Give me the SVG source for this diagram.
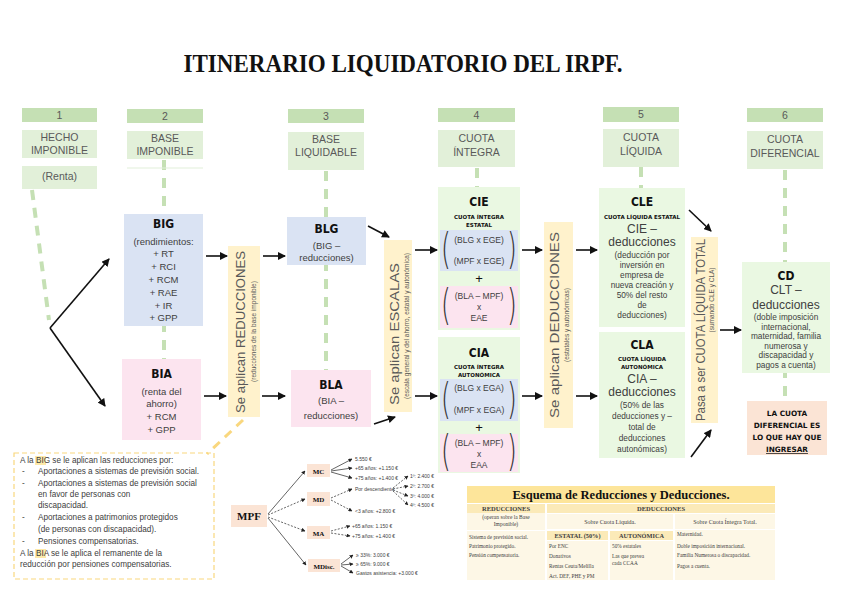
<svg xmlns="http://www.w3.org/2000/svg" width="848" height="599" viewBox="0 0 848 599">
<defs>
<style>
text{font-family:"Liberation Sans",Arial,sans-serif;fill:#595959}
.t{text-anchor:middle}
.hd{font-size:10.5px}
.num{font-size:10.5px}
.ttl{font-family:"DejaVu Sans",sans-serif;font-weight:bold;font-size:12px;fill:#111;text-anchor:middle;font-stretch:condensed}
.sm{font-size:9.5px;text-anchor:middle;fill:#404040}
.xs{font-size:8.3px;text-anchor:middle;fill:#404040}
.tiny{font-family:"DejaVu Sans",sans-serif;font-weight:bold;font-size:5.5px;text-anchor:middle;fill:#111}
.big{font-size:12px;text-anchor:middle;fill:#404040}
.fm{font-size:8.5px;text-anchor:middle;fill:#404040}
.par{font-size:42px;fill:#333;font-family:"DejaVu Sans",sans-serif;font-weight:200}
.vl{font-size:12px;text-anchor:middle;fill:#595959}
.vs{font-size:6.5px;text-anchor:middle;fill:#595959}
.gnum{fill:#c5e0b4}
.glab{fill:#e2f0d9}
.blue{fill:#dae3f3}
.pink{fill:#fce4ef}
.bar{fill:#fff2cc}
.lg{fill:#eaf8e2}
.peach{fill:#fbe4d5}
.gd{stroke:#c5e0b4;stroke-width:4;stroke-dasharray:10 8;fill:none}
.ar{stroke:#111;stroke-width:1.6;fill:none;marker-end:url(#ah)}
.ar2{stroke:#222;stroke-width:0.7;fill:none;marker-end:url(#ah2)}
.ar2d{stroke:#222;stroke-width:0.7;fill:none;stroke-dasharray:2 1.5;marker-end:url(#ah2)}
.nt{font-size:8.2px;fill:#404040}
.mt{font-size:5px;fill:#404040}
.tb{font-family:"Liberation Serif",serif;fill:#404040}
.cell{fill:#fdf7e6}
.chd{fill:#fbeab8}
</style>
<marker id="ah" markerWidth="8" markerHeight="8" refX="7" refY="4" orient="auto" markerUnits="userSpaceOnUse"><path d="M0,0 L8,4 L0,8 Z" fill="#111"/></marker>
<marker id="ah2" markerWidth="4" markerHeight="4" refX="3.5" refY="2" orient="auto" markerUnits="userSpaceOnUse"><path d="M0,0 L4,2 L0,4 Z" fill="#222"/></marker>
</defs>
<rect width="848" height="599" fill="#fff"/>

<text x="403" y="72" text-anchor="middle" style="font-family:'Liberation Serif',serif;font-weight:bold;font-size:25px;fill:#111" textLength="439" lengthAdjust="spacingAndGlyphs">ITINERARIO LIQUIDATORIO DEL IRPF.</text>

<!-- connectors -->
<g id="connectors">
<path class="gd" d="M32,190 L49,320"/>
<path class="gd" d="M164,160 L164,360"/>
<path class="gd" d="M326,171 L326,372"/>
<path class="gd" d="M477,168 L477,188"/>
<path class="gd" d="M641,167 L641,189"/>
<path class="gd" d="M785,170 L785,401"/>
<path d="M243,420 L207,454" stroke="#f9d77e" stroke-width="3" stroke-dasharray="9 7" fill="none"/>
<path class="ar" d="M50,328 L109,259"/>
<path class="ar" d="M50,328 L105,406"/>
<path class="ar" d="M206,256 L227,256"/>
<path class="ar" d="M263,256 L285,256"/>
<path class="ar" d="M204,396 L226,396"/>
<path class="ar" d="M262,396 L285,396"/>
<path class="ar" d="M368,226 L389,237"/>
<path class="ar" d="M374,424 L395,417"/>
<path class="ar" d="M415,250 L437,250"/>
<path class="ar" d="M415,396 L437,396"/>
<path class="ar" d="M522,250 L542,250"/>
<path class="ar" d="M522,396 L542,396"/>
<path class="ar" d="M576,250 L597,250"/>
<path class="ar" d="M576,396 L597,396"/>
<path class="ar" d="M689,210 L711,231"/>
<path class="ar" d="M691,457 L711,430"/>
<path class="ar" d="M720,330 L741,330"/>
<!-- MPF tree -->
<path class="ar2" d="M268,514 L305,471"/>
<path class="ar2d" d="M268,515 L305,499"/>
<path class="ar2d" d="M268,517 L305,531"/>
<path class="ar2" d="M268,518 L306,565"/>
<path class="ar2" d="M331,470 L352,459"/>
<path class="ar2" d="M331,471 L352,468"/>
<path class="ar2" d="M331,472 L352,478"/>
<path class="ar2d" d="M331,498 L352,489"/>
<path class="ar2d" d="M331,500 L352,511"/>
<path class="ar2d" d="M393,488 L408,476"/>
<path class="ar2d" d="M393,489 L408,486"/>
<path class="ar2d" d="M393,490 L408,496"/>
<path class="ar2d" d="M393,491 L408,505"/>
<path class="ar2d" d="M331,531 L350,526"/>
<path class="ar2d" d="M331,533 L350,536"/>
<path class="ar2" d="M341,564 L353,555"/>
<path class="ar2" d="M341,565 L353,564"/>
<path class="ar2" d="M341,566 L353,573"/>
</g>

<!-- column headers -->
<g id="col1">
<rect class="gnum" x="22" y="108" width="75" height="14"/><text class="t num" x="59.5" y="119">1</text>
<rect class="glab" x="22" y="130" width="75" height="28"/><text class="t hd" x="59.5" y="141">HECHO</text><text class="t hd" x="59.5" y="154">IMPONIBLE</text>
<rect class="glab" x="22" y="166" width="75" height="23"/><text class="t hd" x="59.5" y="180">(Renta)</text>
</g>
<g id="col2">
<rect class="gnum" x="127" y="109" width="76" height="14"/><text class="t num" x="165" y="120">2</text>
<rect class="glab" x="127" y="131" width="76" height="28"/><text class="t hd" x="165" y="142">BASE</text><text class="t hd" x="165" y="155">IMPONIBLE</text>
<rect x="127" y="167.5" width="76" height="1" fill="#e2f0d9"/>
</g>
<g id="col3">
<rect class="gnum" x="288" y="109" width="76" height="14"/><text class="t num" x="326" y="120">3</text>
<rect class="glab" x="288" y="132" width="76" height="38"/><text class="t hd" x="326" y="143">BASE</text><text class="t hd" x="326" y="156">LIQUIDABLE</text>
</g>
<g id="col4">
<rect class="gnum" x="438" y="108" width="77" height="14"/><text class="t num" x="476.5" y="119">4</text>
<rect class="glab" x="438" y="130" width="77" height="37"/><text class="t hd" x="476.5" y="142">CUOTA</text><text class="t hd" x="476.5" y="156">ÍNTEGRA</text>
</g>
<g id="col5">
<rect class="gnum" x="603" y="107" width="76" height="15"/><text class="t num" x="641" y="118">5</text>
<rect class="glab" x="603" y="129" width="76" height="38"/><text class="t hd" x="641" y="141">CUOTA</text><text class="t hd" x="641" y="155">LÍQUIDA</text>
</g>
<g id="col6">
<rect class="gnum" x="747" y="108" width="76" height="14"/><text class="t num" x="785" y="119">6</text>
<rect class="glab" x="747" y="131" width="76" height="38"/><text class="t hd" x="785" y="143">CUOTA</text><text class="t hd" x="785" y="157">DIFERENCIAL</text>
</g>

<g id="big">
<rect class="blue" x="124" y="214" width="79" height="112"/>
<text class="ttl" x="163.5" y="228">BIG</text>
<text class="sm" x="163.5" y="245">(rendimientos:</text>
<text class="sm" x="163.5" y="257">+ RT</text>
<text class="sm" x="163.5" y="270">+ RCI</text>
<text class="sm" x="163.5" y="283">+ RCM</text>
<text class="sm" x="163.5" y="296">+ RAE</text>
<text class="sm" x="163.5" y="309">+ IR</text>
<text class="sm" x="163.5" y="321">+ GPP</text>
</g>
<g id="bia">
<rect class="pink" x="122" y="359" width="79" height="81"/>
<text class="ttl" x="161.5" y="378">BIA</text>
<text class="sm" x="161.5" y="395">(renta del</text>
<text class="sm" x="161.5" y="407">ahorro)</text>
<text class="sm" x="161.5" y="420">+ RCM</text>
<text class="sm" x="161.5" y="433">+ GPP</text>
</g>
<g id="bar1">
<rect class="bar" x="228" y="246" width="32" height="171"/>
<text class="vl" transform="translate(245,332) rotate(-90)" textLength="162" lengthAdjust="spacingAndGlyphs">Se aplican REDUCCIONES</text>
<text class="vs" transform="translate(255.5,331.5) rotate(-90)">(reducciones de la base imponible)</text>
</g>
<g id="blg">
<rect class="blue" x="287" y="217" width="79" height="48"/>
<text class="ttl" x="326.5" y="233">BLG</text>
<text class="sm" x="326.5" y="249">(BIG –</text>
<text class="sm" x="326.5" y="261">reducciones)</text>
</g>
<g id="bla">
<rect class="pink" x="291" y="370" width="80" height="57"/>
<text class="ttl" x="331" y="389">BLA</text>
<text class="sm" x="331" y="404">(BIA –</text>
<text class="sm" x="331" y="419">reducciones)</text>
</g>
<g id="bar2">
<rect class="bar" x="384" y="240" width="28" height="172"/>
<text class="vl" transform="translate(399,334) rotate(-90)" textLength="142" lengthAdjust="spacingAndGlyphs">Se aplican ESCALAS</text>
<text class="vs" transform="translate(408.5,326) rotate(-90)">(escala general y del ahorro, estatal y autonómica)</text>
</g>
<g id="cie">
<rect class="lg" x="438" y="187" width="82" height="143"/>
<text class="ttl" x="479" y="206">CIE</text>
<text class="tiny" x="479" y="219">CUOTA ÍNTEGRA</text>
<text class="tiny" x="479" y="227">ESTATAL</text>
<rect class="blue" x="440" y="230" width="78" height="41"/>
<text class="par" transform="translate(441,264) scale(0.6,1)">(</text><text class="par" transform="translate(507,264) scale(0.6,1)">)</text>
<text class="fm" x="479" y="243">(BLG x EGE)</text>
<text class="fm" x="479" y="264">(MPF x EGE)</text>
<text x="479" y="283" style="font-size:13px;text-anchor:middle;fill:#111">+</text>
<rect class="pink" x="440" y="286" width="78" height="42"/>
<text class="par" transform="translate(441,320) scale(0.6,1)">(</text><text class="par" transform="translate(507,320) scale(0.6,1)">)</text>
<text class="fm" x="479" y="299">(BLA – MPF)</text>
<text class="fm" x="479" y="310">x</text>
<text class="fm" x="479" y="321">EAE</text>
</g>
<g id="cia">
<rect class="lg" x="438" y="337" width="82" height="136"/>
<text class="ttl" x="479" y="357">CIA</text>
<text class="tiny" x="479" y="369">CUOTA ÍNTEGRA</text>
<text class="tiny" x="479" y="377">AUTONÓMICA</text>
<rect class="blue" x="440" y="379" width="78" height="42"/>
<text class="par" transform="translate(441,414) scale(0.6,1)">(</text><text class="par" transform="translate(507,414) scale(0.6,1)">)</text>
<text class="fm" x="479" y="391">(BLG x EGA)</text>
<text class="fm" x="479" y="413">(MPF x EGA)</text>
<text x="479" y="432" style="font-size:13px;text-anchor:middle;fill:#111">+</text>
<rect class="pink" x="440" y="434" width="78" height="38"/>
<text class="par" transform="translate(441,466) scale(0.6,1)">(</text><text class="par" transform="translate(507,466) scale(0.6,1)">)</text>
<text class="fm" x="479" y="446">(BLA – MPF)</text>
<text class="fm" x="479" y="457">x</text>
<text class="fm" x="479" y="468">EAA</text>
</g>
<g id="bar3">
<rect class="bar" x="544" y="222" width="29" height="206"/>
<text class="vl" transform="translate(559,325) rotate(-90)" textLength="186" lengthAdjust="spacingAndGlyphs">Se aplican DEDUCCIONES</text>
<text class="vs" transform="translate(568.5,325) rotate(-90)">(estatales y autonómicas)</text>
</g>
<g id="cle">
<rect class="lg" x="599" y="188" width="86" height="139"/>
<text class="ttl" x="642" y="206">CLE</text>
<text class="tiny" x="642" y="219">CUOTA LÍQUIDA ESTATAL</text>
<text class="big" x="642" y="233">CIE –</text>
<text class="big" x="642" y="246">deducciones</text>
<text class="xs" x="642" y="258">(deducción por</text>
<text class="xs" x="642" y="268">inversión en</text>
<text class="xs" x="642" y="278">empresa de</text>
<text class="xs" x="642" y="288">nueva creación y</text>
<text class="xs" x="642" y="298">50% del resto</text>
<text class="xs" x="642" y="308">de</text>
<text class="xs" x="642" y="318">deducciones)</text>
</g>
<g id="cla">
<rect class="lg" x="599" y="332" width="86" height="126"/>
<text class="ttl" x="642" y="349">CLA</text>
<text class="tiny" x="642" y="361">CUOTA LÍQUIDA</text>
<text class="tiny" x="642" y="369">AUTONÓMICA</text>
<text class="big" x="642" y="383">CIA –</text>
<text class="big" x="642" y="396">deducciones</text>
<text class="xs" x="642" y="408">(50% de las</text>
<text class="xs" x="642" y="419">deducciones y –</text>
<text class="xs" x="642" y="430">total de</text>
<text class="xs" x="642" y="441">deducciones</text>
<text class="xs" x="642" y="452">autonómicas)</text>
</g>
<g id="bar4">
<rect class="bar" x="691" y="237" width="27" height="186"/>
<text class="vl" transform="translate(705,330) rotate(-90)" textLength="182" lengthAdjust="spacingAndGlyphs">Pasa a ser CUOTA LÍQUIDA TOTAL</text>
<text class="vs" transform="translate(713.5,300) rotate(-90)">(sumando CLE y CLA)</text>
</g>
<g id="cd">
<rect class="lg" x="742" y="262" width="88" height="111"/>
<text class="ttl" x="786" y="280">CD</text>
<text class="big" x="786" y="294">CLT –</text>
<text class="big" x="786" y="309">deducciones</text>
<text class="xs" x="786" y="320">(doble imposición</text>
<text class="xs" x="786" y="330">internacional,</text>
<text class="xs" x="786" y="339">maternidad, familia</text>
<text class="xs" x="786" y="349">numerosa y</text>
<text class="xs" x="786" y="358">discapacidad y</text>
<text class="xs" x="786" y="368">pagos a cuenta)</text>
</g>
<g id="cdnote">
<rect class="peach" x="747" y="401" width="80" height="54"/>
<text class="tiny" style="font-size:7.3px" x="787" y="416">LA CUOTA</text>
<text class="tiny" style="font-size:7.3px" x="787" y="428">DIFERENCIAL ES</text>
<text class="tiny" style="font-size:7.3px" x="787" y="440">LO QUE HAY QUE</text>
<text class="tiny" style="font-size:7.3px;text-decoration:underline" x="787" y="452">INGRESAR</text>
</g>

<g id="note">
<rect x="14" y="453" width="200" height="126" fill="none" stroke="#f9d77e" stroke-width="1.2" stroke-dasharray="5 3"/>
<rect x="35" y="456" width="11" height="9" fill="#fde9a9"/>
<rect x="35" y="549" width="11" height="9" fill="#fde9a9"/>
<text class="nt" x="20" y="463">A la BIG se le aplican las reducciones por:</text>
<text class="nt" x="22" y="474">-</text><text class="nt" x="38" y="474">Aportaciones a sistemas de previsión social.</text>
<text class="nt" x="22" y="486">-</text><text class="nt" x="38" y="486">Aportaciones a sistemas de previsión social</text>
<text class="nt" x="38" y="497">en favor de personas con</text>
<text class="nt" x="38" y="508">discapacidad.</text>
<text class="nt" x="22" y="520">-</text><text class="nt" x="38" y="520">Aportaciones a patrimonios protegidos</text>
<text class="nt" x="38" y="532">(de personas con discapacidad).</text>
<text class="nt" x="22" y="544">-</text><text class="nt" x="38" y="544">Pensiones compensatorias.</text>
<text class="nt" x="20" y="556">A la BIA se le aplica el remanente de la</text>
<text class="nt" x="20" y="567">reducción por pensiones compensatorias.</text>
</g>

<g id="mpf">
<rect class="peach" x="231" y="505" width="36" height="22"/>
<text class="tb" x="249" y="520" style="font-weight:bold;font-size:11px;text-anchor:middle;fill:#111">MPF</text>
</g>
<g id="mc">
<rect class="peach" x="307" y="464" width="23" height="13"/>
<text class="tb" x="318.5" y="473.5" style="font-weight:bold;font-size:7px;text-anchor:middle;fill:#111">MC</text>
<text class="mt" x="355" y="461">5.550 €</text>
<text class="mt" x="355" y="470">+65 años: +1.150 €</text>
<text class="mt" x="355" y="480">+75 años: +1.400 €</text>
</g>
<g id="md">
<rect class="peach" x="307" y="492" width="23" height="14"/>
<text class="tb" x="318.5" y="502" style="font-weight:bold;font-size:7px;text-anchor:middle;fill:#111">MD</text>
<text class="mt" x="355" y="491">Por descendiente:</text>
<text class="mt" x="355" y="513">&lt;3 años: +2.800 €</text>
<text class="mt" x="410" y="478">1º: 2.400 €</text>
<text class="mt" x="410" y="488">2º: 2.700 €</text>
<text class="mt" x="410" y="498">3º: 4.000 €</text>
<text class="mt" x="410" y="507">4º: 4.500 €</text>
</g>
<g id="ma">
<rect class="peach" x="307" y="526" width="23" height="13"/>
<text class="tb" x="318.5" y="535.5" style="font-weight:bold;font-size:7px;text-anchor:middle;fill:#111">MA</text>
<text class="mt" x="352" y="528">+65 años: 1.150 €</text>
<text class="mt" x="352" y="538">+75 años: +1.400 €</text>
</g>
<g id="mdisc">
<rect class="peach" x="308" y="559" width="32" height="13"/>
<text class="tb" x="324" y="568.5" style="font-weight:bold;font-size:7px;text-anchor:middle;fill:#111">MDisc.</text>
<text class="mt" x="356" y="557">≥ 33%: 3.000 €</text>
<text class="mt" x="356" y="566">≥ 65%: 9.000 €</text>
<text class="mt" x="356" y="575">Gastos asistencia: +3.000 €</text>
</g>

<g id="tabla">
<rect x="467" y="486" width="308" height="17" fill="#fde59a"/>
<text class="tb" x="621" y="499" style="font-weight:bold;font-size:12.5px;text-anchor:middle;fill:#111">Esquema de Reducciones y Deducciones.</text>
<rect class="chd" x="467" y="504" width="78" height="9"/>
<rect class="cell" x="467" y="513" width="78" height="17"/>
<rect class="cell" x="467" y="531" width="78" height="49"/>
<rect class="chd" x="547" y="504" width="228" height="9"/>
<rect class="cell" x="547" y="514" width="126" height="15"/>
<rect class="cell" x="675" y="514" width="100" height="15"/>
<rect class="chd" x="547" y="531" width="61" height="9"/>
<rect class="chd" x="610" y="531" width="63" height="9"/>
<rect class="cell" x="547" y="541" width="61" height="39"/>
<rect class="cell" x="610" y="541" width="63" height="39"/>
<rect class="cell" x="675" y="530" width="100" height="50"/>
<text class="tb" x="506" y="511" style="font-weight:bold;font-size:6.5px;text-anchor:middle">REDUCCIONES</text>
<text class="tb" x="506" y="519" style="font-size:5.5px;text-anchor:middle">(operan sobre la Base</text>
<text class="tb" x="506" y="526" style="font-size:5.5px;text-anchor:middle">Imponible)</text>
<text class="tb" x="661" y="511" style="font-weight:bold;font-size:6.5px;text-anchor:middle">DEDUCCIONES</text>
<text class="tb" x="610" y="524" style="font-size:6px;text-anchor:middle">Sobre Cuota Líquida.</text>
<text class="tb" x="725" y="524" style="font-size:6px;text-anchor:middle">Sobre Cuota Íntegra Total.</text>
<text class="tb" x="577.5" y="538" style="font-weight:bold;font-size:6.3px;text-anchor:middle">ESTATAL (50%)</text>
<text class="tb" x="641.5" y="538" style="font-weight:bold;font-size:6.3px;text-anchor:middle">AUTONÓMICA</text>
<text class="tb" x="469" y="539" style="font-size:5.3px">Sistema de previsión social.</text>
<text class="tb" x="469" y="548" style="font-size:5.3px">Patrimonio protegido.</text>
<text class="tb" x="469" y="557" style="font-size:5.3px">Pensión compensatoria.</text>
<text class="tb" x="549" y="548" style="font-size:5.3px">Por ENC</text>
<text class="tb" x="549" y="558" style="font-size:5.3px">Donativos</text>
<text class="tb" x="549" y="568" style="font-size:5.3px">Rentas Ceuta/Melilla</text>
<text class="tb" x="549" y="578" style="font-size:5.3px">Act. DEF, PHE y PM</text>
<text class="tb" x="612" y="548" style="font-size:5.3px">50% estatales</text>
<text class="tb" x="612" y="558" style="font-size:5.3px">Las que prevea</text>
<text class="tb" x="612" y="565" style="font-size:5.3px">cada CCAA</text>
<text class="tb" x="677" y="536" style="font-size:5.3px">Maternidad.</text>
<text class="tb" x="677" y="548" style="font-size:5.3px">Doble imposición internacional.</text>
<text class="tb" x="677" y="557" style="font-size:5.3px">Familia Numerosa o discapacidad.</text>
<text class="tb" x="677" y="568" style="font-size:5.3px">Pagos a cuenta.</text>
</g>
</svg>
